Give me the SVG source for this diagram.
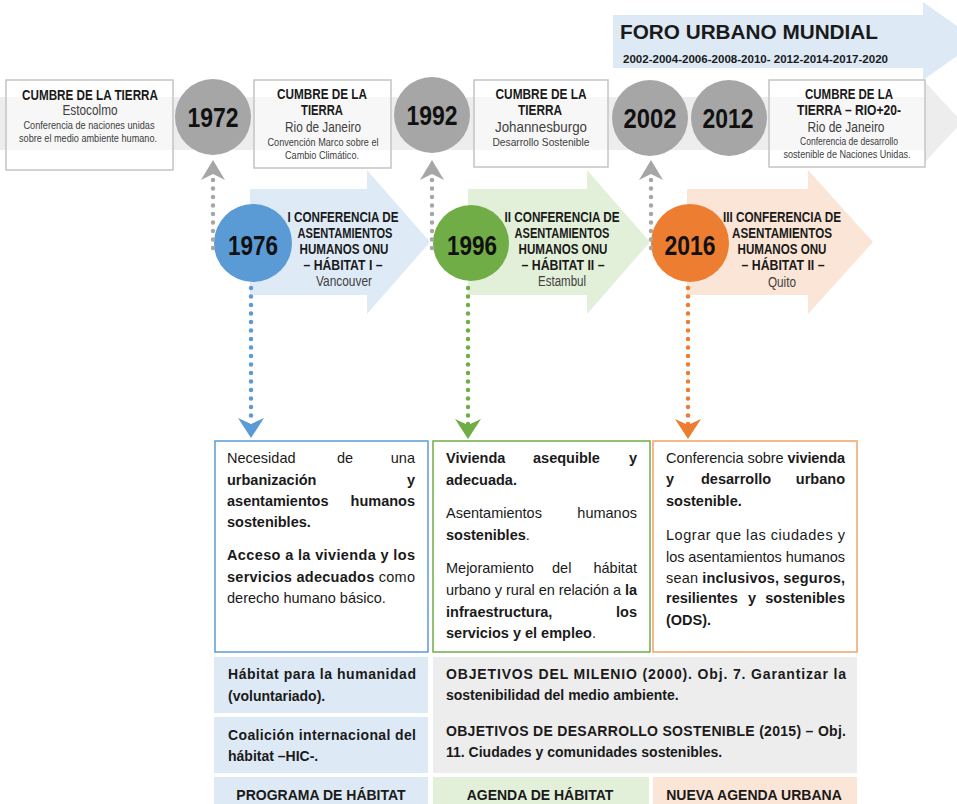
<svg xmlns="http://www.w3.org/2000/svg" width="957" height="804" viewBox="0 0 957 804">
<style>
text{font-family:"Liberation Sans",Arial,sans-serif;fill:#1a1a1a}
.b{font-weight:bold}
.g{fill:#404040}
.c{text-anchor:middle}
.s11{font-size:11px}
.s14{font-size:14px}
.p{font-size:14.5px}
.yr{font-size:28px;font-weight:bold;text-anchor:middle;fill:#111}
.box{fill:#ffffff;fill-opacity:0.55;stroke:#c4c4c4;stroke-width:1.5}
.gc{fill:#a6a6a6}
.dot{fill:none;stroke-width:4.5;stroke-linecap:round;stroke-dasharray:0 8.5}
</style>
<defs>
<marker id="mg" viewBox="0 0 20 24" refX="6" refY="12" markerWidth="20" markerHeight="24" markerUnits="userSpaceOnUse" orient="auto"><path d="M0,0 L20,12 L0,24 L6,12 z" fill="#a6a6a6"/></marker>
<marker id="mb" viewBox="0 0 20 26" refX="6" refY="13" markerWidth="20" markerHeight="26" markerUnits="userSpaceOnUse" orient="auto"><path d="M0,0 L20,13 L0,26 L6,13 z" fill="#5b9bd5"/></marker>
<marker id="mgr" viewBox="0 0 20 26" refX="6" refY="13" markerWidth="20" markerHeight="26" markerUnits="userSpaceOnUse" orient="auto"><path d="M0,0 L20,13 L0,26 L6,13 z" fill="#70ad47"/></marker>
<marker id="mo" viewBox="0 0 20 26" refX="6" refY="13" markerWidth="20" markerHeight="26" markerUnits="userSpaceOnUse" orient="auto"><path d="M0,0 L20,13 L0,26 L6,13 z" fill="#ed7d31"/></marker>
</defs>
<rect width="957" height="804" fill="#ffffff"/>

<!-- background arrows -->
<g id="band">
<path d="M0,97 L925,97 L925,82 L962,122 L925,162 L925,150 L0,150 z" fill="#ededed"/>
</g>
<g id="foro">
<path d="M613,15 L923,15 L923,2 L978,41 L923,80 L923,68 L613,68 z" fill="#dde9f5"/>
<text class="b" x="620" y="39" font-size="20" textLength="258" lengthAdjust="spacingAndGlyphs">FORO URBANO MUNDIAL</text>
<text class="b" x="623" y="63" font-size="11.5" textLength="265" lengthAdjust="spacingAndGlyphs">2002-2004-2006-2008-2010- 2012-2014-2017-2020</text>
</g>

<!-- top row -->
<g id="cumbre1972">
<rect class="box" x="6" y="80" width="167" height="90"/>
<text class="b c s14" x="90" y="100" textLength="136" lengthAdjust="spacingAndGlyphs">CUMBRE DE LA TIERRA</text>
<text class="c s14 g" x="90" y="115" textLength="55" lengthAdjust="spacingAndGlyphs">Estocolmo</text>
<text class="c s11 g" x="89" y="129" textLength="131" lengthAdjust="spacingAndGlyphs">Conferencia de naciones unidas</text>
<text class="c s11 g" x="88" y="142" textLength="138" lengthAdjust="spacingAndGlyphs">sobre el medio ambiente humano.</text>
</g>
<g id="y1972"><circle class="gc" cx="213" cy="117" r="38"/><text class="yr" x="213" y="127" textLength="51" lengthAdjust="spacingAndGlyphs">1972</text></g>
<g id="cumbre1992">
<rect class="box" x="254" y="80" width="137" height="88"/>
<text class="b c s14" x="322" y="99" textLength="90" lengthAdjust="spacingAndGlyphs">CUMBRE DE LA</text>
<text class="b c s14" x="322" y="115" textLength="42" lengthAdjust="spacingAndGlyphs">TIERRA</text>
<text class="c s14 g" x="323" y="132" textLength="76" lengthAdjust="spacingAndGlyphs">Rio de Janeiro</text>
<text class="c s11 g" x="323" y="146" textLength="111" lengthAdjust="spacingAndGlyphs">Convención Marco sobre el</text>
<text class="c s11 g" x="322" y="159" textLength="74" lengthAdjust="spacingAndGlyphs">Cambio Climático.</text>
</g>
<g id="y1992"><circle class="gc" cx="432" cy="115" r="38"/><text class="yr" x="432" y="125" textLength="51" lengthAdjust="spacingAndGlyphs">1992</text></g>
<g id="cumbre2002">
<rect class="box" x="474" y="80" width="134" height="87"/>
<text class="b c s14" x="541" y="99" textLength="91" lengthAdjust="spacingAndGlyphs">CUMBRE DE LA</text>
<text class="b c s14" x="540" y="115" textLength="44" lengthAdjust="spacingAndGlyphs">TIERRA</text>
<text class="c s14 g" x="541" y="132" textLength="92" lengthAdjust="spacingAndGlyphs">Johannesburgo</text>
<text class="c s11 g" x="541" y="146" textLength="97" lengthAdjust="spacingAndGlyphs">Desarrollo Sostenible</text>
</g>
<g id="y2002"><circle class="gc" cx="650" cy="118" r="38"/><text class="yr" x="650" y="128" textLength="53" lengthAdjust="spacingAndGlyphs">2002</text></g>
<g id="y2012"><circle class="gc" cx="729" cy="118" r="38"/><text class="yr" x="728" y="128" textLength="51" lengthAdjust="spacingAndGlyphs">2012</text></g>
<g id="cumbre2012">
<rect class="box" x="769" y="80" width="156" height="87"/>
<text class="b c s14" x="849" y="99" textLength="88" lengthAdjust="spacingAndGlyphs">CUMBRE DE LA</text>
<text class="b c s14" x="849" y="115" textLength="104" lengthAdjust="spacingAndGlyphs">TIERRA – RIO+20-</text>
<text class="c s14 g" x="846" y="132" textLength="77" lengthAdjust="spacingAndGlyphs">Rio de Janeiro</text>
<text class="c s11 g" x="849" y="145" textLength="98" lengthAdjust="spacingAndGlyphs">Conferencia de desarrollo</text>
<text class="c s11 g" x="847" y="158" textLength="127" lengthAdjust="spacingAndGlyphs">sostenible de Naciones Unidas.</text>
</g>

<!-- second row -->
<g id="habitat1">
<path d="M250,189 L367,189 L367,170 L430,242 L367,314 L367,295 L250,295 z" fill="#deebf7"/>
<text class="b c s14" x="343" y="222" textLength="111" lengthAdjust="spacingAndGlyphs">I CONFERENCIA DE</text>
<text class="b c s14" x="345" y="238" textLength="95" lengthAdjust="spacingAndGlyphs">ASENTAMIENTOS</text>
<text class="b c s14" x="344" y="254" textLength="89" lengthAdjust="spacingAndGlyphs">HUMANOS ONU</text>
<text class="b c s14" x="343" y="270" textLength="79" lengthAdjust="spacingAndGlyphs">– HÁBITAT I –</text>
<text class="c s14 g" x="344" y="286" textLength="56" lengthAdjust="spacingAndGlyphs">Vancouver</text>
</g>
<g id="y1976"><circle cx="253" cy="243" r="39" fill="#5b9bd5"/><text class="yr" x="253" y="255" textLength="50" lengthAdjust="spacingAndGlyphs">1976</text></g>
<g id="habitat2">
<path d="M468,189 L587,189 L587,170 L650,242 L587,314 L587,295 L468,295 z" fill="#e2f0d9"/>
<text class="b c s14" x="562" y="222" textLength="115" lengthAdjust="spacingAndGlyphs">II CONFERENCIA DE</text>
<text class="b c s14" x="562" y="238" textLength="95" lengthAdjust="spacingAndGlyphs">ASENTAMIENTOS</text>
<text class="b c s14" x="563" y="254" textLength="89" lengthAdjust="spacingAndGlyphs">HUMANOS ONU</text>
<text class="b c s14" x="563" y="270" textLength="83" lengthAdjust="spacingAndGlyphs">– HÁBITAT II –</text>
<text class="c s14 g" x="562" y="286" textLength="48" lengthAdjust="spacingAndGlyphs">Estambul</text>
</g>
<g id="y1996"><circle cx="471" cy="243" r="38" fill="#70ad47"/><text class="yr" x="472" y="255" textLength="50" lengthAdjust="spacingAndGlyphs">1996</text></g>
<g id="habitat3">
<path d="M687,189 L808,189 L808,170 L873,242 L808,314 L808,295 L687,295 z" fill="#fbe5d6"/>
<text class="b c s14" x="782" y="222" textLength="118" lengthAdjust="spacingAndGlyphs">III CONFERENCIA DE</text>
<text class="b c s14" x="782" y="238" textLength="100" lengthAdjust="spacingAndGlyphs">ASENTAMIENTOS</text>
<text class="b c s14" x="782" y="254" textLength="89" lengthAdjust="spacingAndGlyphs">HUMANOS ONU</text>
<text class="b c s14" x="783" y="270" textLength="83" lengthAdjust="spacingAndGlyphs">– HÁBITAT II –</text>
<text class="c s14 g" x="782" y="287" textLength="28" lengthAdjust="spacingAndGlyphs">Quito</text>
</g>
<g id="y2016"><circle cx="690" cy="243" r="39" fill="#ed7d31"/><text class="yr" x="690" y="255" textLength="51" lengthAdjust="spacingAndGlyphs">2016</text></g>

<!-- connectors -->
<g id="connectors">
<line class="dot" x1="213" y1="248" x2="213" y2="174" stroke="#a6a6a6" marker-end="url(#mg)"/>
<line class="dot" x1="432" y1="248" x2="432" y2="174" stroke="#a6a6a6" marker-end="url(#mg)"/>
<line class="dot" x1="651" y1="248" x2="651" y2="174" stroke="#a6a6a6" marker-end="url(#mg)"/>
<line class="dot" x1="251" y1="288" x2="251" y2="424" stroke="#5b9bd5" marker-end="url(#mb)"/>
<line class="dot" x1="468" y1="288" x2="468" y2="425" stroke="#70ad47" marker-end="url(#mgr)"/>
<line class="dot" x1="688" y1="288" x2="688" y2="425" stroke="#ed7d31" marker-end="url(#mo)"/>
</g>

<!-- description boxes -->
<g id="desc1976">
<rect x="215" y="441" width="213" height="211" fill="#fff" stroke="#5b9bd5" stroke-width="1.5"/>
<text class="p" y="463"><tspan x="227">Necesidad</tspan><tspan x="337">de</tspan><tspan x="415" text-anchor="end">una</tspan></text>
<text class="p b" y="485"><tspan x="227">urbanización</tspan><tspan x="415" text-anchor="end">y</tspan></text>
<text class="p b" y="506"><tspan x="227">asentamientos</tspan><tspan x="415" text-anchor="end">humanos</tspan></text>
<text class="p b" x="227" y="527">sostenibles.</text>
<text class="p b" x="227" y="560" textLength="188" lengthAdjust="spacing">Acceso a la vivienda y los</text>
<text class="p" x="227" y="582" textLength="188" lengthAdjust="spacing"><tspan class="b">servicios adecuados</tspan> como</text>
<text class="p" x="227" y="603">derecho humano básico.</text>
</g>
<g id="desc1996">
<rect x="433" y="441" width="217" height="211" fill="#fff" stroke="#70ad47" stroke-width="1.5"/>
<text class="p b" y="463"><tspan x="446">Vivienda</tspan><tspan x="533">asequible</tspan><tspan x="637" text-anchor="end">y</tspan></text>
<text class="p b" x="446" y="485">adecuada.</text>
<text class="p" y="518"><tspan x="446">Asentamientos</tspan><tspan x="637" text-anchor="end">humanos</tspan></text>
<text class="p" x="446" y="540"><tspan class="b">sostenibles</tspan>.</text>
<text class="p" y="573"><tspan x="446">Mejoramiento</tspan><tspan x="552">del</tspan><tspan x="637" text-anchor="end">hábitat</tspan></text>
<text class="p" x="446" y="595" textLength="191" lengthAdjust="spacing">urbano y rural en relación a <tspan class="b">la</tspan></text>
<text class="p b" y="617"><tspan x="446">infraestructura,</tspan><tspan x="637" text-anchor="end">los</tspan></text>
<text class="p" x="446" y="638"><tspan class="b">servicios y el empleo</tspan>.</text>
</g>
<g id="desc2016">
<rect x="653" y="441" width="204" height="211" fill="#fff" stroke="#f4a36a" stroke-width="1.5"/>
<text class="p" x="666" y="463" textLength="179" lengthAdjust="spacing">Conferencia sobre <tspan class="b">vivienda</tspan></text>
<text class="p b" y="484"><tspan x="666">y</tspan><tspan x="701">desarrollo</tspan><tspan x="845" text-anchor="end">urbano</tspan></text>
<text class="p b" x="666" y="506">sostenible.</text>
<text class="p" x="666" y="540" textLength="179" lengthAdjust="spacing">Lograr que las ciudades y</text>
<text class="p" x="666" y="562" textLength="179" lengthAdjust="spacing">los asentamientos humanos</text>
<text class="p" x="666" y="583" textLength="179" lengthAdjust="spacing">sean <tspan class="b">inclusivos, seguros,</tspan></text>
<text class="p b" y="603"><tspan x="666">resilientes</tspan><tspan x="748">y</tspan><tspan x="845" text-anchor="end">sostenibles</tspan></text>
<text class="p b" x="666" y="625">(ODS).</text>
</g>

<!-- bottom boxes -->
<g id="hab-humanidad">
<rect x="214" y="657" width="214" height="56" fill="#dde9f5"/>
<text class="b s14" x="228" y="679" textLength="188" lengthAdjust="spacing">Hábitat para la humanidad</text>
<text class="b s14" x="228" y="701">(voluntariado).</text>
</g>
<g id="hic">
<rect x="214" y="717" width="214" height="56" fill="#dde9f5"/>
<text class="b s14" x="228" y="740" textLength="188" lengthAdjust="spacing">Coalición internacional del</text>
<text class="b s14" x="228" y="761">hábitat –HIC-.</text>
</g>
<g id="objetivos">
<rect x="433" y="657" width="424" height="116" fill="#ededed"/>
<text class="b s14" x="446" y="679" textLength="400" lengthAdjust="spacing">OBJETIVOS DEL MILENIO (2000). Obj. 7. Garantizar la</text>
<text class="b s14" x="446" y="700">sostenibilidad del medio ambiente.</text>
<text class="b s14" x="446" y="736" textLength="400" lengthAdjust="spacing">OBJETIVOS DE DESARROLLO SOSTENIBLE (2015) – Obj.</text>
<text class="b s14" x="446" y="757">11. Ciudades y comunidades sostenibles.</text>
</g>
<g id="programa">
<rect x="214" y="777" width="214" height="30" fill="#dde9f5"/>
<text class="b s14 c" x="321" y="800">PROGRAMA DE HÁBITAT</text>
</g>
<g id="agenda">
<rect x="433" y="777" width="216" height="30" fill="#e2f0d9"/>
<text class="b s14 c" x="540" y="800">AGENDA DE HÁBITAT</text>
</g>
<g id="nueva-agenda">
<rect x="653" y="777" width="204" height="30" fill="#fbe5d6"/>
<text class="b s14 c" x="754" y="800">NUEVA AGENDA URBANA</text>
</g>
</svg>
